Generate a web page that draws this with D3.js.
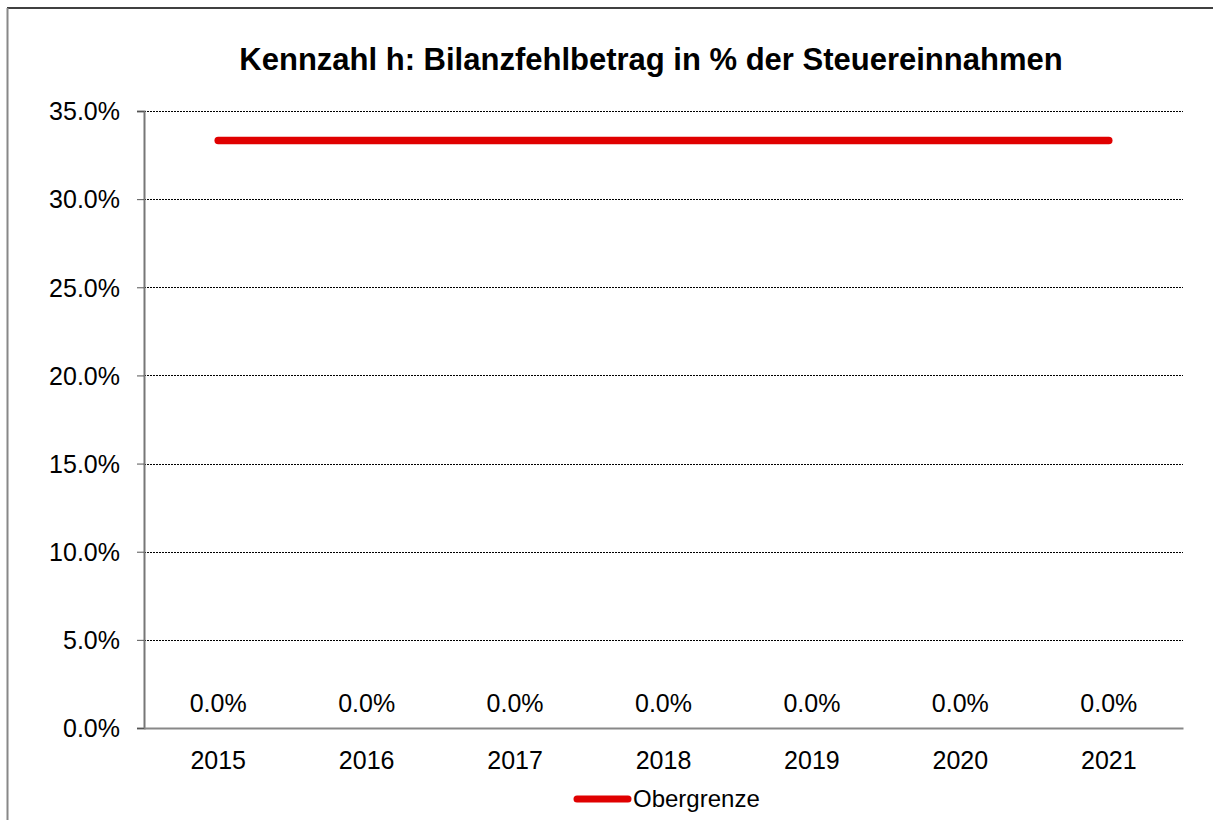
<!DOCTYPE html>
<html>
<head>
<meta charset="utf-8">
<script src="https://cdn.jsdelivr.net/npm/d3@7"></script>
<style>
body{margin:0;background:#fff;overflow:hidden;}
text{font-family:"Liberation Sans",Arial,sans-serif;fill:#000;}
</style>
</head>
<body>
<div id="plot"></div>
<script>
// chart values
var years = ['2015','2016','2017','2018','2019','2020','2021'];
var kennzahl = [0, 0, 0, 0, 0, 0, 0];
var obergrenze = [1/3, 1/3, 1/3, 1/3, 1/3, 1/3, 1/3];
var yTicks = [0, 0.05, 0.10, 0.15, 0.20, 0.25, 0.30, 0.35];

var W = 1213, H = 820;
var margin = {t:111, r:30, b:92, l:144};
var width = W - margin.l - margin.r,
	height = H - margin.t - margin.b;

var svg = d3.select('#plot')
	.append('svg')
	.attr('width', W)
	.attr('height', H)
	.style('display', 'block');

// outer chart border (only top and left visible)
svg.append('line')
	.attr('x1', 7).attr('x2', W).attr('y1', 8).attr('y2', 8)
	.style('stroke', '#000').style('stroke-width', 1.5);
svg.append('line')
	.attr('x1', 7.5).attr('x2', 7.5).attr('y1', 8).attr('y2', H)
	.style('stroke', '#888').style('stroke-width', 2);

svg.append('text')
	.attr('x', 651).attr('y', 70)
	.attr('text-anchor', 'middle')
	.style('font-size', '31px')
	.style('font-weight', 'bold')
	.text('Kennzahl h: Bilanzfehlbetrag in % der Steuereinnahmen');

var plot = svg.append('g')
	.attr('transform', 'translate(' + margin.l + ',' + margin.t + ')');

var x = d3.scaleBand().domain(years).range([0, width]);
var y = d3.scaleLinear().domain([0, 0.35]).range([height, 0]);

// gridlines
plot.selectAll('.grid')
	.data(yTicks.filter(function(d){ return d > 0; }))
	.enter().append('line')
	.attr('x1', 0).attr('x2', width)
	.attr('y1', function(d){ return Math.round(y(d)) + 0.5; })
	.attr('y2', function(d){ return Math.round(y(d)) + 0.5; })
	.style('stroke', '#000')
	.style('stroke-width', 1)
	.style('stroke-dasharray', '2,1');

// y axis
var yAxis = d3.axisLeft(y)
	.tickValues(yTicks)
	.tickFormat(d3.format('.1%'))
	.tickSize(7)
	.tickPadding(17);
var gy = plot.append('g').call(yAxis);
gy.select('.domain').style('stroke', '#777').style('stroke-width', 2);
gy.selectAll('.tick line').style('stroke', '#555');
gy.selectAll('.tick text').style('font-size', '25px').attr('dy', '0.35em');

// x axis
var xAxis = d3.axisBottom(x).tickSize(0).tickPadding(23);
var gx = plot.append('g')
	.attr('transform', 'translate(0,' + height + ')')
	.call(xAxis);
gx.select('.domain').style('stroke', '#888').style('stroke-width', 2);
gx.selectAll('.tick text').style('font-size', '25px');

// data labels for Kennzahl
plot.selectAll('.lbl')
	.data(kennzahl)
	.enter().append('text')
	.attr('x', function(d, i){ return x(years[i]) + x.bandwidth() / 2; })
	.attr('y', function(d){ return y(d) - 16; })
	.attr('text-anchor', 'middle')
	.style('font-size', '25px')
	.text(function(d){ return d3.format('.1%')(d); });

// Obergrenze line
var line = d3.line()
	.x(function(d, i){ return x(years[i]) + x.bandwidth() / 2; })
	.y(function(d){ return y(d); });
plot.append('path')
	.datum(obergrenze)
	.attr('d', line)
	.attr('fill', 'none')
	.style('stroke', '#e00000')
	.style('stroke-width', 7.5)
	.style('stroke-linecap', 'round');

// legend
var lg = svg.append('g').attr('transform', 'translate(577,799)');
lg.append('line')
	.attr('x1', 0).attr('x2', 51)
	.style('stroke', '#e00000')
	.style('stroke-width', 7)
	.style('stroke-linecap', 'round');
lg.append('text')
	.attr('x', 56).attr('y', 8)
	.style('font-size', '24px')
	.text('Obergrenze');
</script>
</body>
</html>
